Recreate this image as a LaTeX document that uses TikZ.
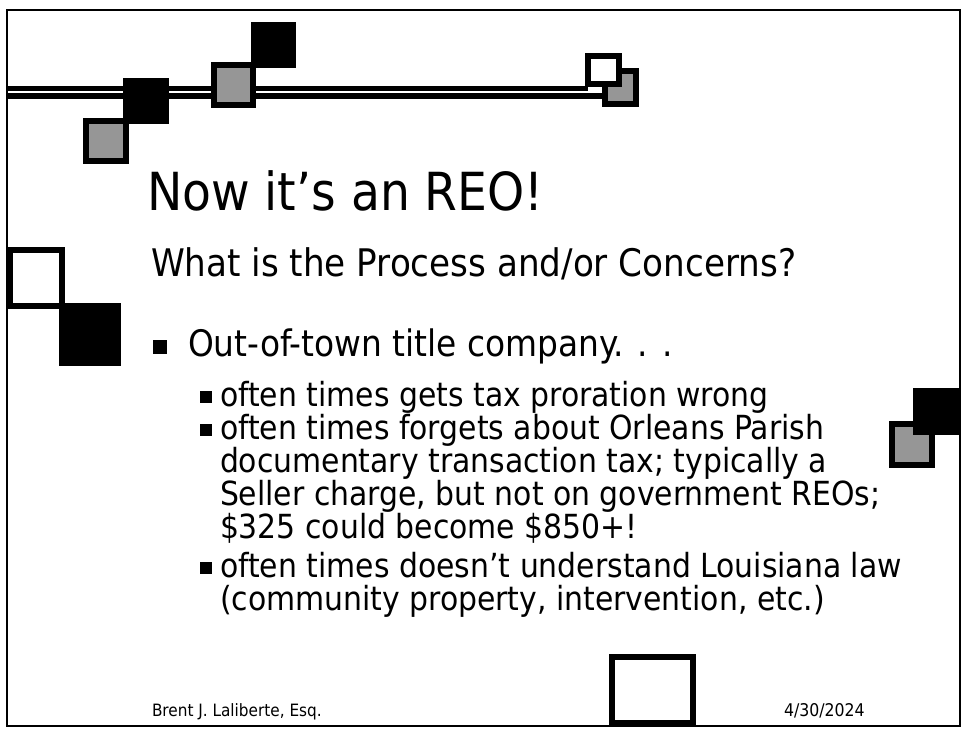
\documentclass[tikz,border=0pt]{standalone}
\usepackage{fontspec}
\setmainfont{DejaVu Sans Condensed}
\definecolor{sqgray}{RGB}{150,150,150}
\tikzset{
  graysq/.style={draw=black, line width=6pt, fill=sqgray},
  whitesq/.style={draw=black, line width=6pt, fill=white},
  blacksq/.style={fill=black},
  bar/.style={draw=black},
  txt/.style={anchor=base west, inner sep=0pt, outer sep=0pt},
  bul/.style={fill=black},
}
\newcommand{\fsz}[1]{\fontsize{#1}{#1}\selectfont}
\begin{document}
\begin{tikzpicture}[x=1pt,y=-1pt]
\useasboundingbox (0,0) rectangle (964,729);
\fill[white] (0,0) rectangle (964,729);
% frame
\draw[line width=2pt] (7,10) rectangle (960,726);
% double lines
\draw[bar, line width=5pt] (7,88) -- (588,88);
\draw[bar, line width=6pt] (7,96) -- (604,96);
% top-left squares
\path[graysq] (86,121) rectangle (126,161);
\path[blacksq] (123,78) rectangle (169,124);
\path[graysq] (214,65) rectangle (253,105);
\path[blacksq] (251,22) rectangle (296,68);
% top-right squares
\path[graysq] (605,71) rectangle (636,104);
\path[whitesq] (588,56) rectangle (619,84);
% left squares
\path[whitesq] (10,250) rectangle (62,306);
\path[blacksq] (59,303) rectangle (121,366);
% right squares
\path[graysq] (892,424) rectangle (932,465);
\path[blacksq] (913,388) rectangle (959,435);
% bottom box
\path[whitesq] (612,657) rectangle (693,723);
% title
\node[txt, font=\fsz{52.5}] (title) at (147,210) {Now it’s an REO!};
\node[txt, font=\fsz{38}] (subtitle) at (151,276) {What is the Process and/or Concerns?};
% level 1
\path[bul] (153,340) rectangle (167,354);
\node[txt, font=\fsz{36.5}] (l1) at (188,356) {Out-of-town title company. . .};
% level 2
\path[bul] (200,391) rectangle (212,403);
\node[txt, font=\fsz{33.2}] (a1) at (220,406) {often times gets tax proration wrong};
\path[bul] (200,424) rectangle (212,436);
\node[txt, font=\fsz{33.2}] (b1) at (220,439) {often times forgets about Orleans Parish};
\node[txt, font=\fsz{33.2}] (b2) at (220,472) {documentary transaction tax; typically a};
\node[txt, font=\fsz{33.2}] (b3) at (220,505) {Seller charge, but not on government REOs;};
\node[txt, font=\fsz{33.2}] (b4) at (220,538) {\$325 could become \$850+!};
\path[bul] (200,562) rectangle (212,574);
\node[txt, font=\fsz{33.2}] (c1) at (220,577) {often times doesn’t understand Louisiana law};
\node[txt, font=\fsz{33.2}] (c2) at (220,610) {(community property, intervention, etc.)};
% footer
\node[txt, font=\fsz{17}] (author) at (152,716) {Brent J. Laliberte, Esq.};
\node[txt, font=\fsz{17.5}] (date) at (784,716) {4/30/2024};
\end{tikzpicture}
\end{document}
